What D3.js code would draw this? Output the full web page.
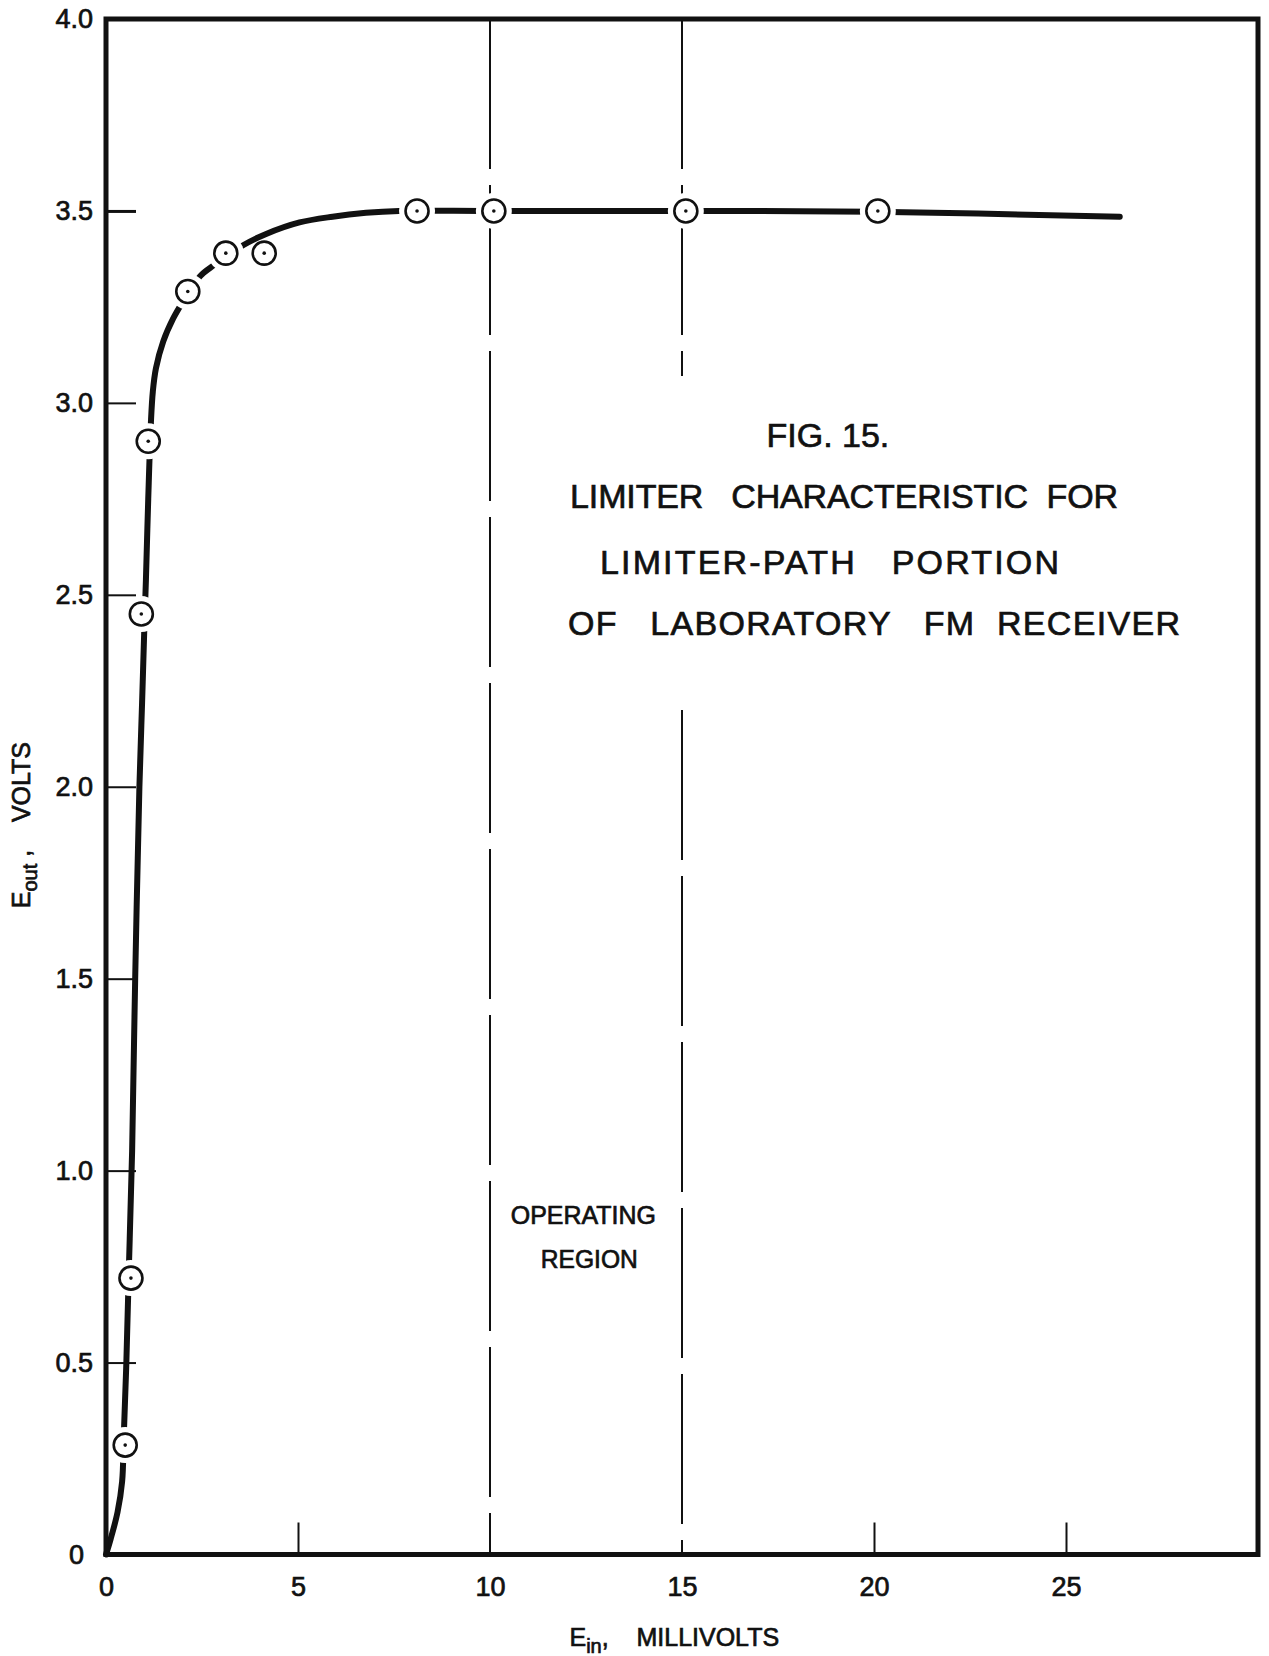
<!DOCTYPE html>
<html>
<head>
<meta charset="utf-8">
<script src="https://cdn.jsdelivr.net/npm/d3@7"></script>
<style>
	body { margin: 0; background: #fff; }
	svg text { font-family: "Liberation Sans", Arial, sans-serif; fill: #111; stroke: #111; stroke-width: 0.7px; }
</style>
</head>
<body>
<div class="chart limiter-plot"></div>
<script>
// measured points (E_in mV, E_out V)
const eIn = [0.5, 0.65, 0.92, 1.1, 2.13, 3.12, 4.12, 8.1, 10.1, 15.1, 20.1];
const eOut = [0.285, 0.72, 2.45, 2.9, 3.29, 3.39, 3.39, 3.5, 3.5, 3.5, 3.5];

// hand-drawn characteristic curve
const curveX = [0, 0.12, 0.3, 0.42, 0.46, 0.53, 0.6, 0.68, 0.76, 0.87, 0.94, 1.0, 1.04, 1.1, 1.17,
	1.22, 1.3, 1.49, 1.75, 1.98, 2.45, 2.83, 3.56, 4.17, 5.04, 5.9, 6.77, 7.63, 10, 15, 20, 26.4];
const curveY = [0, 0.04, 0.11, 0.19, 0.3, 0.5, 0.76, 1.05, 1.5, 2.0, 2.22, 2.42, 2.54, 2.75, 2.95,
	3.03, 3.09, 3.16, 3.22, 3.26, 3.33, 3.36, 3.41, 3.44, 3.47, 3.485, 3.495, 3.5, 3.5, 3.5, 3.498, 3.485];

const xTicks = [0, 5, 10, 15, 20, 25];
const yTicks = [0, 0.5, 1, 1.5, 2, 2.5, 3, 3.5, 4];
const regionLines = [10, 15];

const titleLines = [
	"FIG. 15.",
	"LIMITER   CHARACTERISTIC  FOR",
	"LIMITER-PATH   PORTION",
	"OF   LABORATORY   FM  RECEIVER"
];
const regionLabel = ["OPERATING", "REGION"];

const margin = { top: 19, right: 11, bottom: 101.5, left: 106 };
const W = 1269, H = 1656;
const width = W - margin.left - margin.right;
const height = H - margin.top - margin.bottom;

const x = d3.scaleLinear().domain([0, 30]).range([0, width]);
const y = d3.scaleLinear().domain([0, 4]).range([height, 0]);

const svg = d3.select(".limiter-plot")
	.append("svg")
	.attr("width", W)
	.attr("height", H)
	.append("g")
	.attr("transform", `translate(${margin.left},${margin.top})`);

// axes with inward ticks
const yAxis = svg.append("g")
	.call(d3.axisLeft(y).tickValues(yTicks).tickSize(-30).tickPadding(13)
		.tickFormat((d) => (d === 0 ? "0" : d3.format(".1f")(d))));
yAxis.select(".domain").remove();
yAxis.selectAll(".tick line")
	.attr("stroke", "#111")
	.attr("stroke-width", (d) => (d === 3.5 ? 3 : 2))
	.attr("display", (d) => (d === 0 || d === 4 ? "none" : null));
yAxis.selectAll(".tick text")
	.style("font-size", "27px")
	.attr("fill", "#111")
	.attr("x", (d) => (d === 0 ? -22 : -13));

const xAxis = svg.append("g")
	.attr("transform", `translate(0,${height})`)
	.call(d3.axisBottom(x).tickValues(xTicks).tickSize(-32).tickPadding(22));
xAxis.select(".domain").remove();
xAxis.selectAll(".tick line")
	.attr("stroke", "#111")
	.attr("stroke-width", 2)
	.attr("display", (d) => (d === 0 || regionLines.includes(d) ? "none" : null));
xAxis.selectAll(".tick text").style("font-size", "27px").attr("fill", "#111");

// dashed operating-region boundaries (15 mV line is cut where the title sits)
const segs = [
	{ v: 10, from: 0, to: 4 },
	{ v: 15, from: 3.07, to: 4 },
	{ v: 15, from: 0, to: 2.2 }
];
svg.append("g")
	.selectAll("line")
	.data(segs)
	.join("line")
	.attr("x1", (d) => x(d.v))
	.attr("x2", (d) => x(d.v))
	.attr("y1", (d) => y(d.to))
	.attr("y2", (d) => y(d.from))
	.attr("stroke", "#111")
	.attr("stroke-width", 2)
	.attr("stroke-dasharray", "150,16");

// the curve
const curveData = curveX.map((v, i) => [v, curveY[i]]);
const line = d3.line()
	.x((d) => x(d[0]))
	.y((d) => y(d[1]))
	.curve(d3.curveCatmullRom.alpha(0.5));
const curvePath = svg.append("path")
	.datum(curveData)
	.attr("d", line)
	.attr("fill", "none")
	.attr("stroke", "#111")
	.attr("stroke-width", 6)
	.attr("stroke-linecap", "round");

// white halos break the curve where a point sits on it
const pts = eIn.map((v, i) => ({ x: x(v), y: y(eOut[i]) }));
const node = curvePath.node();
const len = node.getTotalLength();
const samples = d3.range(0, len, 2).map((l) => node.getPointAtLength(l));
pts.forEach((p) => {
	p.onCurve = d3.min(samples, (s) => Math.hypot(s.x - p.x, s.y - p.y)) < 9;
});

svg.append("g")
	.selectAll("circle")
	.data(pts.filter((p) => p.onCurve))
	.join("circle")
	.attr("cx", (d) => d.x)
	.attr("cy", (d) => d.y)
	.attr("r", 18)
	.attr("fill", "#fff");

const marks = svg.append("g");
marks.selectAll("circle.pt")
	.data(pts)
	.join("circle")
	.attr("class", "pt")
	.attr("cx", (d) => d.x)
	.attr("cy", (d) => d.y)
	.attr("r", 11.5)
	.attr("fill", "#fff")
	.attr("stroke", "#111")
	.attr("stroke-width", 2.6);
marks.selectAll("circle.dot")
	.data(pts)
	.join("circle")
	.attr("class", "dot")
	.attr("cx", (d) => d.x)
	.attr("cy", (d) => d.y)
	.attr("r", 1.8)
	.attr("fill", "#111");

// frame
svg.append("rect")
	.attr("x", x(0))
	.attr("y", y(4))
	.attr("width", x(30) - x(0))
	.attr("height", y(0) - y(4))
	.attr("fill", "none")
	.attr("stroke", "#111")
	.attr("stroke-width", 5);

// figure title
const titleX = [x(18.8), x(19.22), x(18.84), x(20.0)];
const titleY = [y(2.885), y(2.725), y(2.555), y(2.395)];
const titleW = [null, 548, 459, 612];
svg.append("g")
	.selectAll("text")
	.data(titleLines)
	.join("text")
	.attr("x", (d, i) => titleX[i])
	.attr("y", (d, i) => titleY[i])
	.attr("text-anchor", "middle")
	.attr("textLength", (d, i) => titleW[i])
	.attr("lengthAdjust", "spacing")
	.style("font-size", "34px")
	.style("white-space", "pre")
	.text((d) => d);

svg.append("g")
	.selectAll("text")
	.data(regionLabel)
	.join("text")
	.attr("x", (d, i) => x(12.43) + i * 6)
	.attr("y", (d, i) => y(0.86) + i * 44)
	.attr("text-anchor", "middle")
	.attr("textLength", (d, i) => (i === 0 ? 145 : 97))
	.attr("lengthAdjust", "spacingAndGlyphs")
	.style("font-size", "25px")
	.text((d) => d);

// axis titles
const xt = svg.append("text")
	.attr("x", x(14.8))
	.attr("y", height + 91)
	.attr("text-anchor", "middle")
	.style("font-size", "25px")
	.style("white-space", "pre");
xt.append("tspan").text("E");
xt.append("tspan").attr("dy", 7).style("font-size", "20px").text("in");
xt.append("tspan").attr("dy", -7).text(",    MILLIVOLTS");

const yt = svg.append("text")
	.attr("transform", `translate(${-margin.left + 30},${y(1.9)}) rotate(-90)`)
	.attr("text-anchor", "middle")
	.style("font-size", "25px")
	.style("white-space", "pre");
yt.append("tspan").text("E");
yt.append("tspan").attr("dy", 7).style("font-size", "20px").text("out");
yt.append("tspan").attr("dy", -7).text(" ,    VOLTS");
</script>
</body>
</html>
